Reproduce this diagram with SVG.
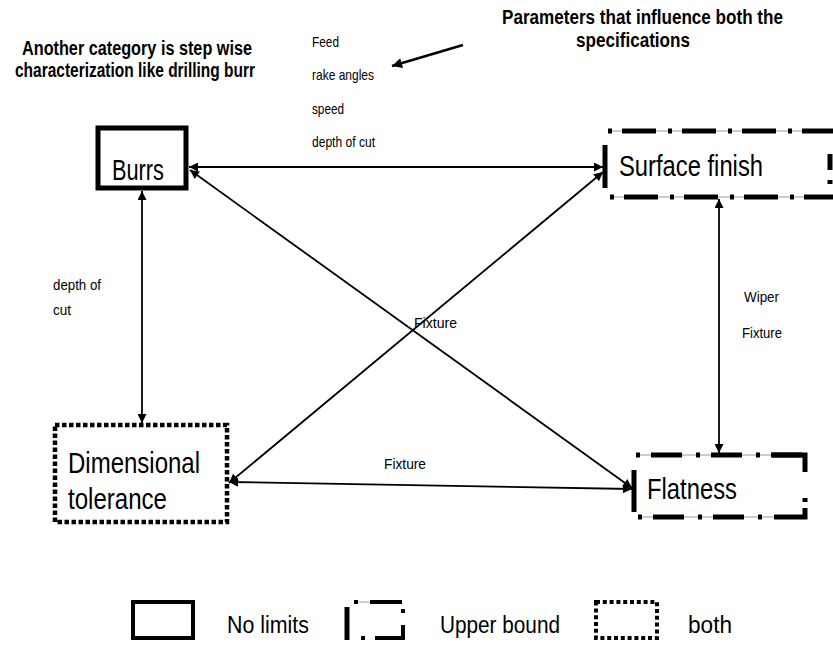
<svg xmlns="http://www.w3.org/2000/svg" width="833" height="646" viewBox="0 0 833 646">
<style>
text{font-family:"Liberation Sans",Arial,sans-serif;fill:#000}
.node{font-size:30px}
.lbl{font-size:15px}
.bold{font-weight:bold;font-size:20px}
.leg{font-size:23px}
.conn{stroke:#000;stroke-width:1.8;fill:none}
.solid{fill:#fff;stroke:#000;stroke-width:5}
.dd{fill:none;stroke:#000;stroke-width:5;stroke-dasharray:4 10 34 12}
.thin{stroke:#999;stroke-width:1;fill:none}
.bar{stroke:#000;stroke-width:5;fill:none}
.dots{fill:none;stroke:#000;stroke-width:4.5;stroke-dasharray:4.5 2.5}
</style>
<defs>
<marker id="ah" viewBox="0 0 10 10" refX="10" refY="5" markerWidth="11" markerHeight="9" orient="auto-start-reverse" markerUnits="userSpaceOnUse"><path d="M0,0 L10,5 L0,10 z" fill="#000"/></marker>
<marker id="ah2" viewBox="0 0 10 10" refX="10" refY="5" markerWidth="13" markerHeight="10" orient="auto" markerUnits="userSpaceOnUse"><path d="M0,0 L10,5 L0,10 z" fill="#000"/></marker>
</defs>
<rect width="833" height="646" fill="#fff"/>

<g id="notes">
<text class="bold" x="22" y="55" textLength="230" lengthAdjust="spacingAndGlyphs">Another category is step wise</text>
<text class="bold" x="15" y="77" textLength="240" lengthAdjust="spacingAndGlyphs">characterization like drilling burr</text>
<text class="bold" x="502" y="24" textLength="281" lengthAdjust="spacingAndGlyphs">Parameters that influence both the</text>
<text class="bold" x="576" y="47" textLength="114" lengthAdjust="spacingAndGlyphs">specifications</text>
<text class="lbl" x="312" y="47" textLength="27" lengthAdjust="spacingAndGlyphs">Feed</text>
<text class="lbl" x="312" y="80" textLength="62" lengthAdjust="spacingAndGlyphs">rake angles</text>
<text class="lbl" x="312" y="114" textLength="32" lengthAdjust="spacingAndGlyphs">speed</text>
<text class="lbl" x="312" y="147" textLength="63" lengthAdjust="spacingAndGlyphs">depth of cut</text>
</g>

<g id="connectors">
<line class="conn" x1="189" y1="167" x2="603" y2="167" marker-start="url(#ah)" marker-end="url(#ah)"/>
<line class="conn" x1="190" y1="170" x2="632" y2="488" marker-start="url(#ah)" marker-end="url(#ah)"/>
<line class="conn" x1="603" y1="172" x2="229" y2="483" marker-start="url(#ah)" marker-end="url(#ah)"/>
<line class="conn" x1="142" y1="191" x2="142" y2="423" marker-start="url(#ah)" marker-end="url(#ah)"/>
<line class="conn" x1="719" y1="199" x2="719" y2="453" marker-start="url(#ah)" marker-end="url(#ah)"/>
<line class="conn" x1="229" y1="482" x2="632" y2="489" marker-start="url(#ah)" marker-end="url(#ah)"/>
<line x1="463" y1="45" x2="392" y2="66" stroke="#000" stroke-width="2.6" marker-end="url(#ah2)"/>
<text class="lbl" x="414" y="328" textLength="43" lengthAdjust="spacingAndGlyphs">Fixture</text>
<text class="lbl" x="384" y="469" textLength="42" lengthAdjust="spacingAndGlyphs">Fixture</text>
<text class="lbl" x="744" y="302" textLength="35" lengthAdjust="spacingAndGlyphs">Wiper</text>
<text class="lbl" x="742" y="338" textLength="40" lengthAdjust="spacingAndGlyphs">Fixture</text>
<text class="lbl" x="53" y="290" textLength="48" lengthAdjust="spacingAndGlyphs">depth of</text>
<text class="lbl" x="53" y="315" textLength="18" lengthAdjust="spacingAndGlyphs">cut</text>
</g>

<g id="burrs">
<rect class="solid" x="98" y="128" width="88" height="60"/>
<text class="node" x="112" y="180" textLength="52" lengthAdjust="spacingAndGlyphs">Burrs</text>
</g>

<g id="surface-finish">
<line class="thin" x1="610" y1="131" x2="833" y2="131"/>
<line class="thin" x1="610" y1="197" x2="833" y2="197"/>
<line class="dd" x1="608" y1="131" x2="833" y2="131"/>
<line class="dd" x1="610" y1="197" x2="833" y2="197"/>
<line class="bar" x1="830" y1="154" x2="830" y2="170"/>
<line class="bar" x1="830" y1="180" x2="830" y2="184"/>
<line class="bar" x1="605" y1="145" x2="605" y2="188"/>
<text class="node" x="619" y="176" textLength="144" lengthAdjust="spacingAndGlyphs">Surface finish</text>
</g>

<g id="dimensional-tolerance">
<rect class="dots" x="55" y="425" width="172" height="97"/>
<text class="node" x="68" y="473" textLength="132" lengthAdjust="spacingAndGlyphs">Dimensional</text>
<text class="node" x="68" y="509" textLength="99" lengthAdjust="spacingAndGlyphs">tolerance</text>
</g>

<g id="flatness">
<line class="thin" x1="638" y1="455" x2="805" y2="455"/>
<line class="thin" x1="638" y1="517" x2="805" y2="517"/>
<line class="dd" x1="636" y1="455" x2="805" y2="455" style="stroke-dasharray:4 11 31 14"/>
<path class="bar" d="M772,455 H805 V472"/>
<line class="bar" x1="805" y1="498" x2="805" y2="502"/>
<path class="bar" d="M805,508 V517 H774"/>
<line class="dd" x1="638" y1="517" x2="762" y2="517" style="stroke-dasharray:4 11 31 14"/>
<line class="bar" x1="634" y1="470" x2="634" y2="512"/>
<text class="node" x="647" y="499" textLength="90" lengthAdjust="spacingAndGlyphs">Flatness</text>
</g>

<g id="legend">
<rect x="133" y="602" width="60" height="36" fill="none" stroke="#000" stroke-width="4"/>
<text class="leg" x="227" y="633" textLength="82" lengthAdjust="spacingAndGlyphs">No limits</text>
<line class="bar" x1="347" y1="607" x2="347" y2="640"/>
<line class="thin" x1="358" y1="602" x2="372" y2="602"/>
<line x1="354" y1="602" x2="358" y2="602" stroke="#000" stroke-width="4"/>
<line x1="370" y1="602" x2="402" y2="602" stroke="#000" stroke-width="4"/>
<line x1="403" y1="609" x2="403" y2="613" stroke="#000" stroke-width="4"/>
<path d="M403,625 V638 H375" fill="none" stroke="#000" stroke-width="4"/>
<line x1="361" y1="638" x2="365" y2="638" stroke="#000" stroke-width="4"/>
<text class="leg" x="440" y="633" textLength="120" lengthAdjust="spacingAndGlyphs">Upper bound</text>
<rect x="596" y="602" width="61" height="36" fill="none" stroke="#000" stroke-width="4" stroke-dasharray="4 2.8"/>
<text class="leg" x="688" y="633" textLength="44" lengthAdjust="spacingAndGlyphs">both</text>
</g>
</svg>
